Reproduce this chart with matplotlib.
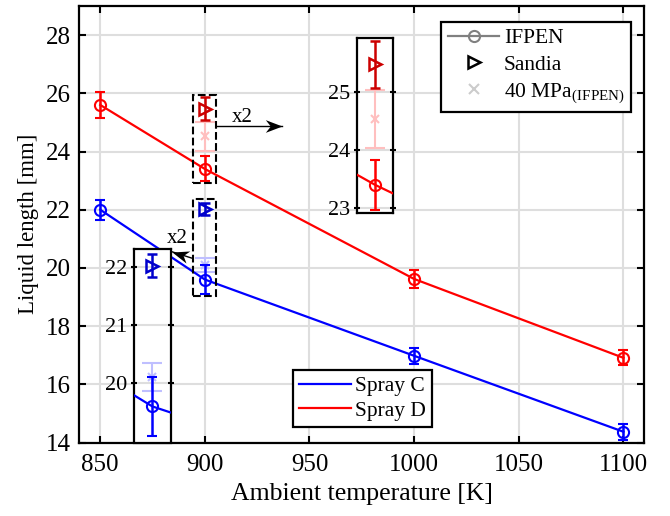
import matplotlib
matplotlib.use('Agg')
import matplotlib.pyplot as plt
from matplotlib.lines import Line2D
from matplotlib.patches import Rectangle
from matplotlib.path import Path
from matplotlib.markers import MarkerStyle
from matplotlib.transforms import Affine2D

plt.rcParams['font.family'] = ['Liberation Serif', 'DejaVu Serif']
plt.rcParams['mathtext.fontset'] = 'custom'
plt.rcParams['mathtext.rm'] = 'Liberation Serif'

# IFPEN data
temps = [850, 900, 1000, 1100]
spray_c = [22.0, 19.6, 16.98, 14.37]
spray_c_err = [0.34, 0.5, 0.27, 0.27]
spray_d = [25.6, 23.4, 19.62, 16.91]
spray_d_err = [0.46, 0.43, 0.3, 0.26]

# Sandia and 40 MPa points at 900 K
t_extra = [900]
sandia_c = [22.02]
sandia_c_err = [0.2]
sandia_d = [25.47]
sandia_d_err = [0.4]
mpa40_c = [20.11]
mpa40_c_err = [0.24]
mpa40_d = [24.53]
mpa40_d_err = [0.5]

BLUE = (0, 0, 1)
RED = (1, 0, 0)
DBLUE = (0, 0, 0.8)
DRED = (0.8, 0, 0)
LBLUE = (0.75, 0.75, 1)
LRED = (1, 0.75, 0.75)
GRID = (0.87, 0.87, 0.87)


def draw_data(ax, ms=8):
    ax.errorbar(t_extra, mpa40_c, yerr=mpa40_c_err, fmt='x', color=LBLUE, ms=ms * 0.8,
                mew=1.5, elinewidth=1.5, capsize=7, capthick=1.5, zorder=3)
    ax.errorbar(t_extra, mpa40_d, yerr=mpa40_d_err, fmt='x', color=LRED, ms=ms * 0.8,
                mew=1.5, elinewidth=1.5, capsize=7, capthick=1.5, zorder=3)
    ax.errorbar(t_extra, sandia_c, yerr=sandia_c_err, fmt='>', color=DBLUE, mfc='none',
                ms=ms, mew=1.8, elinewidth=1.8, capsize=3.5, capthick=1.8, zorder=4)
    ax.errorbar(t_extra, sandia_d, yerr=sandia_d_err, fmt='>', color=DRED, mfc='none',
                ms=ms, mew=1.8, elinewidth=1.8, capsize=3.5, capthick=1.8, zorder=4)
    ax.errorbar(temps, spray_c, yerr=spray_c_err, fmt='-o', color=BLUE, mfc='none',
                ms=ms, mew=1.5, lw=1.6, elinewidth=1.8, capsize=3.5, capthick=1.8, zorder=5)
    ax.errorbar(temps, spray_d, yerr=spray_d_err, fmt='-o', color=RED, mfc='none',
                ms=ms, mew=1.5, lw=1.6, elinewidth=1.8, capsize=3.5, capthick=1.8, zorder=5)


# notched arrow head (like matlab's annotation arrow)
head_path = Path([(0, 0), (-1, 0.38), (-0.7, 0), (-1, -0.38), (0, 0)],
                 [Path.MOVETO, Path.LINETO, Path.LINETO, Path.LINETO, Path.CLOSEPOLY])


def arrow(ax, tail, tip, angle):
    ax.plot([tail[0], tip[0]], [tail[1], tip[1]], color='k', lw=1, zorder=7)
    m = MarkerStyle(head_path, transform=Affine2D().rotate_deg(angle))
    ax.plot([tip[0]], [tip[1]], marker=m, ms=24, color='k', mew=0, zorder=7)


fig = plt.figure(figsize=(6.7, 5.16), dpi=100)
ax = fig.add_axes([79.3 / 670, 1 - 442.5 / 516, 565 / 670, 436.5 / 516])

draw_data(ax)
ax.set_xlim(840, 1110)
ax.set_ylim(14, 29)
ax.set_xticks([850, 900, 950, 1000, 1050, 1100])
ax.set_yticks(range(14, 29, 2))
ax.grid(color=GRID, lw=1.5)
ax.set_axisbelow(True)
ax.tick_params(direction='in', length=5, width=1.5, labelsize=18, top=True, right=True)
ax.tick_params(axis='x', pad=8)
ax.tick_params(axis='y', pad=6)
for s in ax.spines.values():
    s.set_linewidth(1.6)
ax.set_xlabel('Ambient temperature [K]', fontsize=18.5, labelpad=5)
ax.set_ylabel('Liquid length [mm]', fontsize=16.5, labelpad=5)

# dashed boxes around the 900 K points
ax.add_patch(Rectangle((894.55, 22.93), 10.85, 3.02, fill=False, ls='--', lw=1.5, ec='k', zorder=6))
ax.add_patch(Rectangle((894.55, 19.04), 10.85, 3.33, fill=False, ls='--', lw=1.5, ec='k', zorder=6))

arrow(ax, (905.4, 24.86), (937.1, 24.86), 0)
ax.text(918.0, 25.17, 'x2', fontsize=15, ha='center', va='center')
arrow(ax, (893.6, 20.34), (884.5, 20.55), 162.5)
ax.text(886.7, 21.0, 'x2', fontsize=15, ha='center', va='center')

# legends
h1 = [Line2D([], [], color=(0.5, 0.5, 0.5), marker='o', mfc='none', ms=8, mew=1.5, lw=1.6),
      Line2D([], [], color='k', marker='>', mfc='none', ms=8, mew=1.8, ls='none'),
      Line2D([], [], color=(0.8, 0.8, 0.8), marker='x', ms=6.5, mew=1.5, ls='none')]
leg1 = ax.legend(h1, ['IFPEN', 'Sandia', r'40 MPa$_{\mathrm{(IFPEN)}}$'], loc='upper right',
                 bbox_to_anchor=(631 / 670, 1 - 21.7 / 516), bbox_transform=fig.transFigure,
                 borderaxespad=0, fontsize=15.5, fancybox=False, framealpha=1, edgecolor='k',
                 handlelength=2.4, handletextpad=0.2, labelspacing=0.3, borderpad=0.3)
leg1.get_frame().set_linewidth(1.6)
ax.add_artist(leg1)

h2 = [Line2D([], [], color=BLUE, lw=1.6), Line2D([], [], color=RED, lw=1.6)]
leg2 = ax.legend(h2, ['Spray C', 'Spray D'], loc='lower left',
                 bbox_to_anchor=(292.7 / 670, 1 - 427.3 / 516), bbox_transform=fig.transFigure,
                 borderaxespad=0, fontsize=15.5, fancybox=False, framealpha=1, edgecolor='k',
                 handlelength=2.4, handletextpad=0.2, labelspacing=0.2, borderpad=0.3)
leg2.get_frame().set_linewidth(1.6)

# zoomed insets (x2)
ins_d = fig.add_axes([356.7 / 670, 1 - 212.7 / 516, 36.6 / 670, 174.4 / 516])
ins_c = fig.add_axes([134 / 670, 1 - 442.5 / 516, 36.7 / 670, 193.2 / 516])
for ins, lims, ticks in ((ins_d, (22.92, 25.92), [23, 24, 25]),
                         (ins_c, (18.98, 22.3), [20, 21, 22])):
    draw_data(ins)
    ins.set_xlim(896, 904)
    ins.set_ylim(*lims)
    ins.set_xticks([])
    ins.set_yticks(ticks)
    ins.grid(axis='y', color=GRID, lw=1.5)
    ins.set_axisbelow(True)
    ins.tick_params(axis='y', direction='inout', length=5, width=1.5, labelsize=16,
                    right=True, pad=2)
    for s in ins.spines.values():
        s.set_linewidth(1.6)

fig.savefig('out.png', dpi=100)
